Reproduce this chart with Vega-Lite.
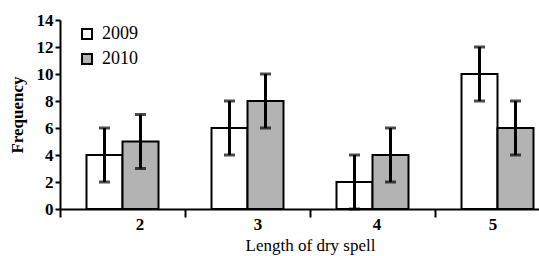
{
  "$schema": "https://vega.github.io/schema/vega-lite/v6.json",
  "width": 479,
  "height": 189,
  "autosize": "none",
  "padding": {"left": 60, "top": 20, "right": 0, "bottom": 47},
  "background": "white",
  "config": {
    "view": {"stroke": null},
    "font": "Liberation Serif",
    "axis": {"domainColor": "black", "tickColor": "black", "labelColor": "black", "titleColor": "black", "grid": false, "domainWidth": 2, "tickWidth": 2, "labelFont": "Liberation Serif", "titleFont": "Liberation Serif", "labelOverlap": false, "labelFontSize": 17, "labelFontWeight": "bold", "titleFontSize": 17},
    "axisY": {"tickSize": 5, "labelPadding": 2, "titlePadding": 10, "titleFontWeight": "bold"},
    "axisX": {"tickSize": 8, "labelPadding": -1, "titlePadding": 5, "titleFontWeight": "normal", "labelAngle": 0},
    "legend": {"labelFont": "Liberation Serif"}
  },
  "data": {
    "values": [
      {"len": "2", "year": "2009", "value": 4, "lo": 2, "hi": 6},
      {"len": "2", "year": "2010", "value": 5, "lo": 3, "hi": 7},
      {"len": "3", "year": "2009", "value": 6, "lo": 4, "hi": 8},
      {"len": "3", "year": "2010", "value": 8, "lo": 6, "hi": 10},
      {"len": "4", "year": "2009", "value": 2, "lo": 0, "hi": 4},
      {"len": "4", "year": "2010", "value": 4, "lo": 2, "hi": 6},
      {"len": "5", "year": "2009", "value": 10, "lo": 8, "hi": 12},
      {"len": "5", "year": "2010", "value": 6, "lo": 4, "hi": 8}
    ]
  },
  "encoding": {
    "x": {
      "field": "len", "type": "ordinal",
      "scale": {"range": [0, 500], "paddingInner": 0, "paddingOuter": 0},
      "axis": {
        "title": "Length of dry spell",
        "tickBand": "extent",
        "labelOffset": {"expr": "datum.value == '2' ? 17 : datum.value == '3' ? 10 : datum.value == '4' ? 4 : -5"}
      }
    },
    "xOffset": {"field": "year", "type": "nominal", "scale": {"paddingInner": 0, "paddingOuter": 0.736}}
  },
  "layer": [
    {
      "mark": {"type": "bar", "stroke": "black", "strokeWidth": 2},
      "encoding": {
        "y": {
          "field": "value", "type": "quantitative",
          "scale": {"domain": [0, 14], "nice": false},
          "axis": {"values": [0, 2, 4, 6, 8, 10, 12, 14], "tickCount": 8, "title": "Frequency", "labelOverlap": false, "domain": true}
        },
        "fill": {
          "field": "year", "type": "nominal",
          "scale": {"domain": ["2009", "2010"], "range": ["white", "#b3b3b3"]},
          "legend": {
            "orient": "none", "legendX": 18, "legendY": 5, "title": null,
            "symbolType": "square", "symbolSize": 100, "symbolStrokeWidth": 2, "symbolStrokeColor": "black",
            "labelFontSize": 18, "labelFont": "Liberation Serif", "labelColor": "black", "rowPadding": 7, "labelOffset": 6
          }
        }
      }
    },
    {
      "mark": {"type": "rule", "strokeWidth": 3, "color": "black"},
      "encoding": {
        "y": {"field": "lo", "type": "quantitative", "axis": {"values": [0, 2, 4, 6, 8, 10, 12, 14], "tickCount": 8, "title": "Frequency", "labelOverlap": false, "domain": true}},
        "y2": {"field": "hi"}
      }
    },
    {
      "mark": {"type": "tick", "thickness": 3, "size": 11, "color": "black"},
      "encoding": {"y": {"field": "lo", "type": "quantitative", "axis": {"values": [0, 2, 4, 6, 8, 10, 12, 14], "tickCount": 8, "title": "Frequency", "labelOverlap": false, "domain": true}}}
    },
    {
      "mark": {"type": "tick", "thickness": 3, "size": 11, "color": "black"},
      "encoding": {"y": {"field": "hi", "type": "quantitative", "axis": {"values": [0, 2, 4, 6, 8, 10, 12, 14], "tickCount": 8, "title": "Frequency", "labelOverlap": false, "domain": true}}}
    }
  ]
}
